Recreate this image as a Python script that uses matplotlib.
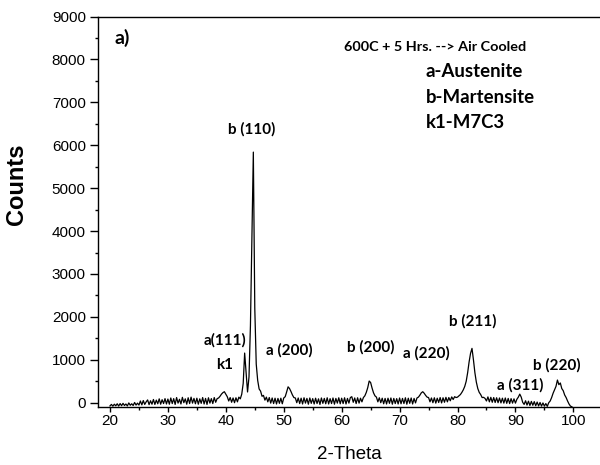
import numpy as np
import matplotlib
matplotlib.use('Agg')
import matplotlib.pyplot as plt
from matplotlib.ticker import MultipleLocator

# XRD scan: start angle, step and counts (20.00 .. 99.75)
theta_start = 20.0
theta_step = 0.25
counts = [
    # 20 - 25
    -75, -40, -80, -35, -72, -25, -78, -20, -70, -15, -65, -30, -75, -5, -60, -25, -65, 5, -55, -10,
    # 25 - 30
    -55, 40, -50, 50, -40, 20, 65, -45, 45, -35, 75, -40, 60, -25, 90, -35, 70, -20, 95, -30,
    # 30 - 35
    85, -35, 110, -20, 95, -40, 120, -10, 80, -30, 125, 0, 90, -35, 115, -20, 130, -10, 100, -25,
    # 35 - 40
    105, -35, 90, -15, 120, -30, 100, -40, 115, -10, 95, -20, 120, 10, 95, 110, 150, 200, 235, 256,
    # 40 - 45
    200, 140, 40, 120, 10, 110, 0, 115, 20, 130, 90, 200, 450, 1157, 700, 250, 600, 1800, 3800, 5840,
    # 45 - 50
    2200, 900, 520, 320, 270, 150, 170, 60, 130, 20, 120, -10, 110, -20, 105, -30, 100, -15, 105, -25,
    # 50 - 55
    110, 140, 250, 370, 330, 260, 180, 120, 110, 0, 110, -20, 105, -30, 115, -10, 100, -35, 110, -15,
    # 55 - 60
    95, -30, 105, -20, 90, -40, 110, -15, 100, -25, 115, -30, 95, -20, 110, -35, 100, -10, 115, -25,
    # 60 - 65
    105, -20, 115, -30, 100, -10, 120, 140, 10, 110, -20, 115, -10, 105, 20, 120, 160, 240, 350, 505,
    # 65 - 70
    470, 340, 230, 160, 130, 20, 115, 0, 105, -25, 100, -30, 105, -15, 110, -35, 100, -20, 95, -30,
    # 70 - 75
    110, -25, 100, -20, 115, -35, 105, -15, 110, -30, 100, -5, 110, 130, 175, 230, 256, 220, 170, 130,
    # 75 - 80
    120, 20, 110, 0, 115, -10, 105, 5, 120, -5, 115, 10, 125, 20, 120, 45, 135, 75, 140, 120,
    # 80 - 85
    130, 160, 190, 240, 300, 380, 500, 700, 950, 1150, 1266, 1000, 700, 480, 330, 240, 190, 120, 125, 100,
    # 85 - 90
    40, 135, 20, 125, 10, 120, 5, 115, 0, 110, -5, 105, -10, 110, -15, 100, -20, 95, -10, 90,
    # 90 - 95
    -10, 80, 130, 200, 130, 10, -40, 45, -55, 35, -65, 30, -60, 25, -70, 15, -75, 5, -80, -5,
    # 95 - 100
    -80, -20, -85, 0, 40, 120, 220, 300, 380, 528, 420, 460, 330, 280, 180, 120, 40, -30, -80, -95,
]
two_theta = theta_start + theta_step * np.arange(len(counts))

# peak labels: text, x, y (data units)
peak_labels = ['b (110)', 'a(111)', 'k1', 'a (200)', 'b (200)', 'a (220)',
               'b (211)', 'a (311)', 'b (220)']
label_x = [44.5, 39.9, 39.8, 51.0, 65.1, 74.6, 82.7, 90.9, 97.1]
label_y = [6360, 1460, 880, 1230, 1300, 1150, 1900, 410, 880]

phase_lines = ['a-Austenite', 'b-Martensite', 'k1-M7C3']

fig = plt.figure(figsize=(6.0, 4.65), dpi=100)
ax = fig.add_axes([0.1638, 0.1241, 0.8362, 0.8404])

ax.plot(two_theta, counts, color='black', lw=0.9)

ax.set_xlim(17.98, 104.6)
ax.set_ylim(-107, 9000)
ax.xaxis.set_major_locator(MultipleLocator(10))
ax.xaxis.set_minor_locator(MultipleLocator(5))
ax.yaxis.set_major_locator(MultipleLocator(1000))
ax.yaxis.set_minor_locator(MultipleLocator(500))
ax.spines['right'].set_visible(False)
for s in ['left', 'bottom', 'top']:
    ax.spines[s].set_linewidth(1.0)
ax.tick_params(axis='y', which='major', length=6, width=1.0, direction='out', pad=3)
ax.tick_params(axis='y', which='minor', length=2.5, width=1.0, direction='out')
ax.tick_params(axis='x', which='major', length=3.5, width=1.0, direction='out', pad=1)
ax.tick_params(axis='x', which='minor', length=2.5, width=1.0, direction='out')
for lab in ax.get_xticklabels() + ax.get_yticklabels():
    lab.set_fontfamily('Liberation Sans')
    lab.set_fontsize(11)

ax.set_xlabel('2-Theta', family='Liberation Sans', fontsize=13.5, labelpad=13.5)
ax.set_ylabel('Counts', family='Liberation Sans', fontsize=17, fontweight='bold')
ax.yaxis.set_label_coords(-0.1405, 0.57)

lato = dict(family='Lato', fontweight='bold', color='black')
ax.text(0.033, 0.945, 'a)', transform=ax.transAxes, fontsize=14, va='center', ha='left', **lato)
ax.text(0.489, 0.923, '600C + 5 Hrs. --> Air Cooled', transform=ax.transAxes,
        fontsize=10.4, va='center', ha='left', **lato)
for i, line in enumerate(phase_lines):
    ax.text(0.653, 0.859 - i * 0.0655, line, transform=ax.transAxes,
            fontsize=13.4, va='center', ha='left', **lato)

for txt, x, y in zip(peak_labels, label_x, label_y):
    ax.text(x, y, txt, fontsize=11, ha='center', va='center', **lato)

fig.savefig('out.png', dpi=100)
